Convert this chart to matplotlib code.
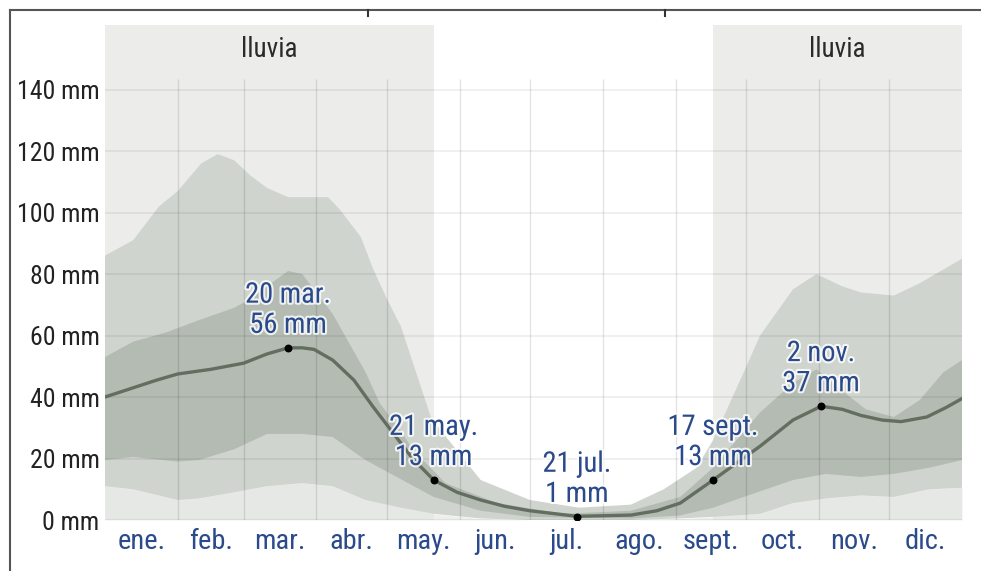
import matplotlib
matplotlib.use("Agg")
import matplotlib.pyplot as plt
import matplotlib.patheffects as pe
from matplotlib.lines import Line2D
from matplotlib import font_manager as fm

# ---------------- data (mm, 31-day moving precipitation) ----------------
months = ["ene.", "feb.", "mar.", "abr.", "may.", "jun.", "jul.", "ago.",
          "sept.", "oct.", "nov.", "dic."]
month_starts = [0, 31, 59, 90, 120, 151, 181, 212, 243, 273, 304, 334, 365]

median_days = [0, 12, 22, 31, 45, 59, 69, 78, 84, 89, 97, 106, 114, 123, 131,
               140, 150, 160, 170, 181, 201, 224, 235, 245, 259, 269, 279,
               293, 305, 314, 322, 331, 339, 350, 358, 365]
median_mm = [40, 43, 45.5, 47.5, 49, 51, 54, 56, 56, 55.5, 52, 45.5, 37, 28, 20,
             13, 9, 6.5, 4.5, 3, 1.2, 1.6, 3, 5.5, 13, 18.5, 24,
             32.5, 37, 36, 34, 32.5, 32, 33.5, 36.5, 39.5]

p90_days = [0, 12, 23, 31, 41, 48, 55, 62, 69, 78, 86, 95, 100, 109, 114,
            120, 126, 139, 160, 181, 202, 224, 238, 252, 259, 272, 279, 293,
            303, 314, 322, 336, 347, 365]
p90_mm = [86, 91, 102, 107, 116, 119, 117, 112, 108, 105, 105, 105, 101, 92,
          82, 72, 63, 33, 13, 6.5, 4, 5, 10, 17, 26, 48, 60, 75,
          80, 76, 74, 73, 77, 85]

p75_days = [0, 12, 26, 40, 55, 62, 69, 78, 84, 97, 111, 117, 126, 131, 145,
            167, 195, 224, 245, 259, 279, 293, 303, 314, 324, 336, 347, 357, 365]
p75_mm = [53, 58, 61, 65, 69, 72, 76, 81, 80, 67, 48, 38, 29, 23, 12,
          5.5, 2, 3, 7.5, 17, 35, 44.5, 49, 42, 36, 33.5, 39, 48, 52]

p25_days = [0, 12, 31, 40, 55, 69, 84, 97, 111, 117, 140, 160, 181, 224,
            245, 259, 272, 293, 307, 322, 336, 351, 365]
p25_mm = [19.5, 20.5, 19, 19.5, 23, 28, 28, 27, 19.5, 17, 7.5, 3, 1, 0.5,
          1.5, 4, 7.5, 13, 15, 14, 15, 17, 19.5]

p10_days = [0, 12, 31, 40, 55, 69, 84, 97, 111, 126, 140, 160, 181, 224,
            245, 259, 279, 293, 307, 322, 336, 351, 365]
p10_mm = [11, 10, 6.5, 7, 9, 11, 12, 11, 6.5, 4, 2, 0.5, 0, 0,
          0.5, 1, 2, 5.5, 7, 8, 7.5, 10, 10.5]

wet_seasons = [(0, 140), (259, 365)]
season_label = "lluvia"

highlight_days = [78, 140, 201, 259, 305]
highlight_mm = [56, 13, 1, 13, 37]
highlight_labels = ["20 mar.\n56 mm", "21 may.\n13 mm", "21 jul.\n1 mm",
                    "17 sept.\n13 mm", "2 nov.\n37 mm"]

y_ticks = [0, 20, 40, 60, 80, 100, 120, 140]
y_ticklabels = [f"{v} mm" for v in y_ticks]

# ---------------- style ----------------
def pick_font(cands):
    for c in cands:
        try:
            fm.findfont(fm.FontProperties(family=c), fallback_to_default=False)
            return c
        except Exception:
            pass
    return "DejaVu Sans"

narrow = pick_font(["Liberation Sans Narrow", "Arial Narrow", "Roboto Condensed",
                    "Open Sans Condensed", "Liberation Sans"])
is_narrow = narrow != "Liberation Sans"
plt.rcParams["font.family"] = [narrow, "DejaVu Sans"]
FS = 20.5 if is_narrow else 17.5
FS_Y = 18.5 if is_narrow else 16.5

BLUE = "#2b4a8b"
SHADE = "#ecedea"
C_OUT = "#cfd4ce"
C_IN = "#b4bbb3"
C_LOW = "#e3e5e2"
LINE = "#636e60"

fig = plt.figure(figsize=(9.81, 5.71), dpi=100)
ax = fig.add_axes([105 / 981, 51 / 571, 857 / 981, 495 / 571])
ax.set_xlim(0, 365)
ax.set_ylim(0, 161)
for s in ax.spines.values():
    s.set_visible(False)

# wet season shading
for a, b in wet_seasons:
    ax.axvspan(a, b, color=SHADE, zorder=0, lw=0)
    ax.text((a + b) / 2, 153, season_label, ha="center", va="center",
            fontsize=FS - 1, color="#2a2a2a", zorder=5)

# bands
ax.fill_between(p10_days, 0, p10_mm, color=C_LOW, lw=0, zorder=1, alpha=0.6)
ax.fill(p90_days + p10_days[::-1], p90_mm + p10_mm[::-1], color=C_OUT, lw=0, zorder=1)
ax.fill(p75_days + p25_days[::-1], p75_mm + p25_mm[::-1], color=C_IN, lw=0, zorder=2)

# grid
for v in y_ticks:
    ax.axhline(v, color="#000000", alpha=0.07, lw=1.2, zorder=3)
ax.vlines(month_starts[1:-1], 0, 143.5, color="#000000", alpha=0.11, lw=1, zorder=3)

# median line
ax.plot(median_days, median_mm, color=LINE, lw=2.4, zorder=4,
        solid_capstyle="round", solid_joinstyle="round")

# highlights
ax.scatter(highlight_days, highlight_mm, s=22, color="black", zorder=6)
for d, v, lab in zip(highlight_days, highlight_mm, highlight_labels):
    ax.annotate(lab, (d, v), xytext=(0, 9), textcoords="offset pixels",
                ha="center", va="bottom", fontsize=FS, color=BLUE,
                linespacing=1.15, multialignment="center", zorder=7,
                path_effects=[pe.withStroke(linewidth=3, foreground="white", alpha=0.8)])

# ticks
ax.set_yticks(y_ticks)
ax.set_yticklabels(y_ticklabels, fontsize=FS_Y, color="#222222")
mids = [(month_starts[i] + month_starts[i + 1]) / 2 for i in range(12)]
ax.set_xticks(mids)
ax.set_xticklabels(months, fontsize=FS, color=BLUE)
ax.tick_params(axis="both", length=0)
ax.tick_params(axis="y", pad=4)
ax.tick_params(axis="x", pad=6)

# screenshot frame
fig.add_artist(Line2D([10 / 981, 1], [1 - 10 / 571, 1 - 10 / 571], color="#555555", lw=1.5))
fig.add_artist(Line2D([10 / 981, 10 / 981], [0, 1 - 10 / 571], color="#555555", lw=1.5))
fig.add_artist(Line2D([368 / 981, 368 / 981], [1 - 10 / 571, 1 - 16 / 571], color="#333333", lw=1.5))
fig.add_artist(Line2D([665 / 981, 665 / 981], [1 - 10 / 571, 1 - 16 / 571], color="#333333", lw=1.5))

fig.savefig("out.png", dpi=100)
